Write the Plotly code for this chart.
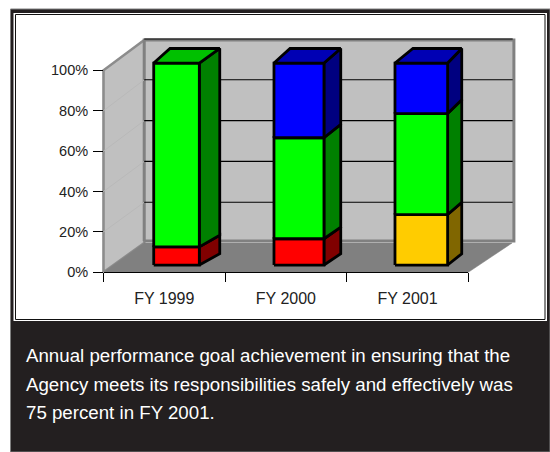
import plotly.graph_objects as go

# ---- data (percent of goals) ----
years = ["FY 1999", "FY 2000", "FY 2001"]
not_met = [9, 13, 0]
partial = [0, 0, 25]
met = [91, 50, 50]
exceeded = [0, 37, 25]
y_ticks = [0, 20, 40, 60, 80, 100]
y_labels = ["0%", "20%", "40%", "60%", "80%", "100%"]
caption = [
    "Annual performance goal achievement in ensuring that the",
    "Agency meets its responsibilities safely and effectively was",
    "75 percent in FY 2001.",
]

# ---- styles: (front, side, top) ----
series = [
    (not_met, "#ff0000", "#800000", "#c00000"),
    (partial, "#ffcc00", "#806600", "#c09900"),
    (met, "#00ff00", "#008000", "#00c000"),
    (exceeded, "#0000ff", "#000080", "#0000b4"),
]

# ---- layout geometry ----
W, H = 550, 452
X0, X3 = 103.5, 468.3      # pixel extent of the three categories
Y0, Y100 = 272.3, 70.3     # pixel extent of 0..100
ux = (X3 - X0) / 3
uy = (Y0 - Y100) / 100
x_range = [-X0 / ux, (W - X0) / ux]
y_range = [(Y0 - H) / uy, Y0 / uy]

BACK_DX = 0.335
BACK_R = 3.375
def back_level(v):
    return 14.5 + 1.01 * v

# bar footprints in category units: front left/right, back left/right
fl = [0.413, 1.402, 2.397]
fr = [0.788, 1.813, 2.830]
bl = [0.547, 1.534, 2.545]
br = [0.956, 1.951, 2.946]
def front_y(v):
    return 3.6 + v
def rear_y(v):
    return 9.2 + 1.016 * v

fig = go.Figure()

def poly(xs, ys, fill, line="#000000", width=2.8):
    fig.add_trace(go.Scatter(
        x=xs + xs[:1], y=ys + ys[:1], mode="lines", fill="toself", fillcolor=fill,
        line=dict(color=line, width=width), hoverinfo="skip", showlegend=False,
        xaxis="x", yaxis="y"))

def seg(xs, ys, color, width):
    fig.add_trace(go.Scatter(
        x=xs, y=ys, mode="lines", line=dict(color=color, width=width),
        hoverinfo="skip", showlegend=False, xaxis="x", yaxis="y"))

# walls and floor
poly([0, BACK_DX, BACK_DX, 0], [0, back_level(0), back_level(100) - 0.5, 100], "#c0c0c0", "#8c8c8c", 2.6)
poly([BACK_DX, BACK_R, BACK_R, BACK_DX], [back_level(0) + 1, back_level(0) + 1, back_level(100) - 0.5, back_level(100) - 0.5],
     "#c0c0c0", "#808080", 3)
poly([0, BACK_DX, BACK_R - 0.015, 3], [0, back_level(0), back_level(0), 0], "#808080", "#808080", 0.5)

# gridlines
for v in y_ticks[1:-1]:
    seg([0, BACK_DX], [v, back_level(v)], "#b9b9b9", 1)
    seg([BACK_DX, BACK_R - 0.01], [back_level(v)] * 2, "#000000", 1.1)
seg([BACK_DX, BACK_R - 0.01], [back_level(100)] * 2, "#000000", 1.1)

# bars
for i in range(len(years)):
    base = 0
    parts = [(s[i], f, sd, t) for s, f, sd, t in series if s[i] > 0]
    for n, (v, f, sd, t) in enumerate(parts):
        top = base + v
        poly([fr[i], br[i], br[i], fr[i]],
             [front_y(base), rear_y(base), rear_y(top), front_y(top)], sd)
        poly([fl[i], fr[i], fr[i], fl[i]],
             [front_y(base), front_y(base), front_y(top), front_y(top)], f)
        if n == len(parts) - 1:
            poly([fl[i], fr[i], br[i], bl[i]],
                 [front_y(top), front_y(top), rear_y(top), rear_y(top)], t)
        base = top

# carrier for the visible axes
fig.add_trace(go.Scatter(x=[0, 3], y=[0, 100], mode="none", hoverinfo="skip",
                         showlegend=False, xaxis="x2", yaxis="y2"))

tick_font = dict(family="Liberation Sans, Arial, sans-serif", size=14.5, color="#222222")
shapes = [
    dict(type="rect", xref="paper", yref="paper", x0=10.5 / W, x1=1.0, y0=0, y1=1 - 9 / H,
         fillcolor="#231f20", line=dict(color="#808080", width=1), layer="below"),
    dict(type="rect", xref="paper", yref="paper", x0=13.5 / W, x1=547 / W, y0=1 - 321 / H, y1=1 - 13 / H,
         fillcolor="#ffffff", line=dict(width=0), layer="below"),
    dict(type="rect", xref="paper", yref="paper", x0=15.5 / W, x1=545 / W, y0=1 - 319.5 / H, y1=1 - 14.5 / H,
         fillcolor="#ffffff", line=dict(color="#111111", width=1), layer="below"),
]
annotations = [
    dict(text=t, xref="paper", yref="paper", x=23.5 / W, y=1 - py / H, xanchor="left", yanchor="middle",
         showarrow=False, align="left",
         font=dict(family="Liberation Sans, Arial, sans-serif", size=18.7, color="#ffffff"))
    for t, py in zip(caption, [355, 384, 412])
]

fig.update_layout(
    width=W, height=H, margin=dict(l=0, r=0, t=0, b=0, pad=0, autoexpand=False), autosize=False,
    paper_bgcolor="#ffffff", plot_bgcolor="rgba(0,0,0,0)", showlegend=False,
    shapes=shapes, annotations=annotations,
    xaxis=dict(domain=[0, 1], range=x_range, visible=False, fixedrange=True),
    yaxis=dict(domain=[0, 1], range=y_range, visible=False, fixedrange=True),
    xaxis2=dict(domain=[X0 / W, X3 / W], range=[0, 3], anchor="y2",
                tickmode="array", tickvals=[0.5, 1.5, 2.5], ticktext=years, ticks="", ticklen=0,
                ticklabelstandoff=11, tickfont=dict(tick_font, size=16), showgrid=False, zeroline=False,
                fixedrange=True, showline=True, linecolor="#000000", linewidth=1,
                minor=dict(tickmode="array", tickvals=[0, 1, 2, 3], ticks="outside", ticklen=9,
                           tickcolor="#000000", tickwidth=1, showgrid=False)),
    yaxis2=dict(domain=[(H - Y0) / H, (H - Y100) / H], range=[0, 100], anchor="x2",
                tickmode="array", tickvals=y_ticks, ticktext=y_labels, ticks="outside", ticklen=9.5,
                tickcolor="#000000", tickwidth=1, ticklabelstandoff=2, tickfont=tick_font,
                fixedrange=True, showgrid=False, zeroline=False, showline=False),
)

fig.write_html("out.html", config={"displayModeBar": False},
               post_script="document.body.style.margin='0';document.documentElement.style.overflow='hidden';")
